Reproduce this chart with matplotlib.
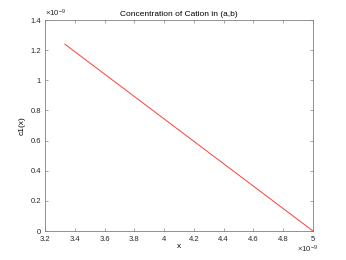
import matplotlib
matplotlib.use('Agg')
import matplotlib.pyplot as plt
from matplotlib.ticker import FuncFormatter

# data
x = [3.3333e-9, 5.0e-9]
c1 = [1.24e-9, 0.0]

xticks = [3.2e-9, 3.4e-9, 3.6e-9, 3.8e-9, 4.0e-9, 4.2e-9, 4.4e-9, 4.6e-9, 4.8e-9, 5.0e-9]
yticks = [0, 0.2e-9, 0.4e-9, 0.6e-9, 0.8e-9, 1.0e-9, 1.2e-9, 1.4e-9]
scale = 1e-9

plt.rcParams['font.family'] = ['Liberation Sans', 'DejaVu Sans']
plt.rcParams['mathtext.fontset'] = 'custom'
plt.rcParams['mathtext.rm'] = 'Liberation Sans'

fig = plt.figure(figsize=(3.46, 2.6), dpi=100)
ax = fig.add_axes([0.13, 0.1115, 0.7746, 0.8115])

ax.plot(x, c1, color='#ff3c3c', lw=0.7)

ax.set_xlim(3.2e-9, 5.0e-9)
ax.set_ylim(0, 1.4e-9)
ax.set_xticks(xticks)
ax.set_yticks(yticks)

fmt = FuncFormatter(lambda v, p: '%g' % round(v / scale, 6))
ax.xaxis.set_major_formatter(fmt)
ax.yaxis.set_major_formatter(fmt)

ax.tick_params(direction='in', top=True, right=True, length=2.5, width=0.5,
               labelsize=5.5, colors='#808080', labelcolor='#262626')
ax.tick_params(axis='x', pad=3.5)
ax.tick_params(axis='y', pad=3)
for s in ax.spines.values():
    s.set_color('#808080')
    s.set_linewidth(0.6)

# MATLAB-style exponent labels
ax.text(0.0, 1.005, r'$\mathrm{\times10^{-9}}$', transform=ax.transAxes, fontsize=5.6,
        color='#262626', ha='left', va='bottom')
ax.text(1.02, -0.058, r'$\mathrm{\times10^{-9}}$', transform=ax.transAxes, fontsize=5.6,
        color='#262626', ha='right', va='top')

ax.set_title('Concentration of Cation in (a,b)', fontsize=6, pad=3)
ax.set_xlabel('x', fontsize=6, labelpad=0)
ax.set_ylabel('c1(x)', fontsize=6, labelpad=3)

fig.savefig('out.png', dpi=100)
